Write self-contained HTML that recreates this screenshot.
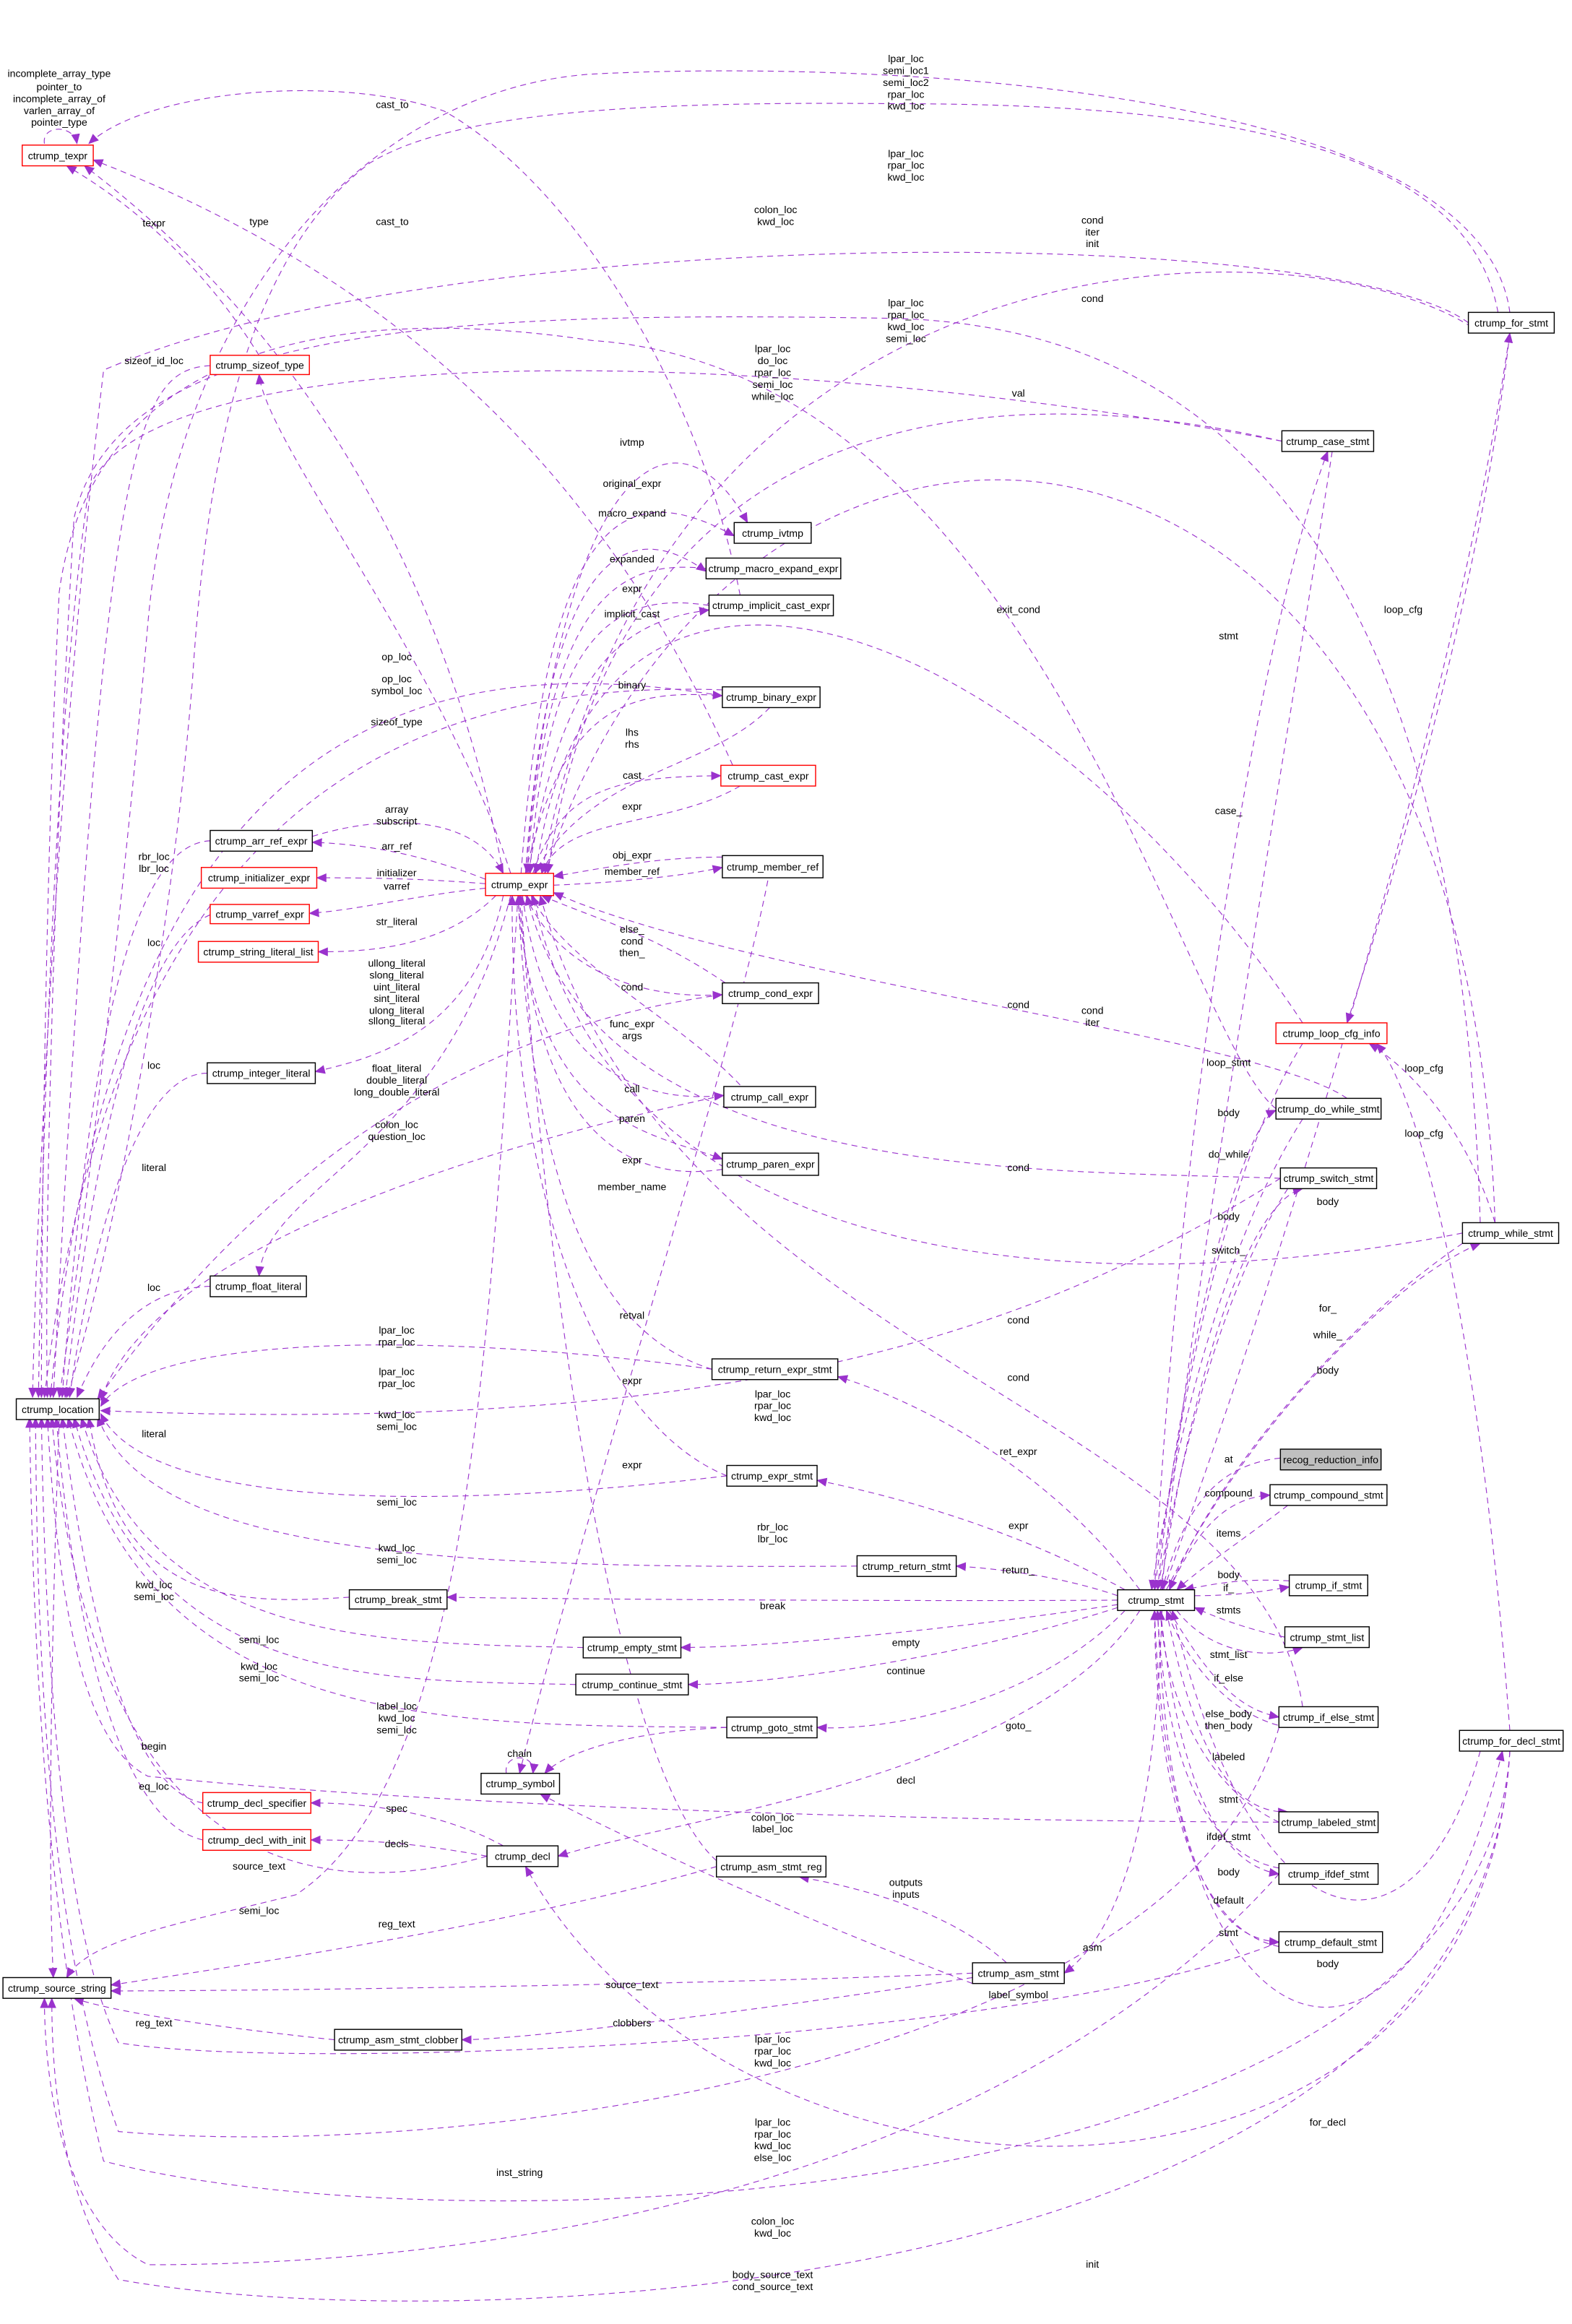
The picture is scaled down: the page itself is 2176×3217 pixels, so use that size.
<!DOCTYPE html>
<html><head><meta charset="utf-8"><style>
html,body{margin:0;padding:0;background:#fff;}
svg{display:block;}
text{font-family:"Liberation Sans",sans-serif;font-size:6.9px;fill:#000;}
.n{fill:#fff;stroke:#000;stroke-width:0.7;}
.r{fill:#fff;stroke:#f00;stroke-width:0.7;}
.g{fill:#bfbfbf;stroke:#000;stroke-width:0.7;}
.e{fill:none;stroke:#9a32cd;stroke-width:0.55;stroke-dasharray:4,3;marker-end:url(#a);}
.l{text-anchor:middle;}
</style></head><body>
<svg width="2176" height="3217" viewBox="0 0 1062 1570" xmlns="http://www.w3.org/2000/svg">
<defs><marker id="a" markerWidth="7" markerHeight="6" refX="6.5" refY="3" orient="auto" markerUnits="userSpaceOnUse"><path d="M0,0 L7,3 L0,6 z" fill="#9a32cd"/></marker></defs>
<rect width="1062" height="1570" fill="#fff"/>
<g>
<path class="e" d="M30,97 C28,84 50,84 52,97"/>
<path class="e" d="M500,402 C470,250 380,120 300,75 C230,50 100,60 60,97"/>
<path class="e" d="M175,240 C150,200 110,150 45,112"/>
<path class="e" d="M340,590 C300,380 200,220 57,112"/>
<path class="e" d="M495,517 C420,350 300,200 63,108"/>
<path class="e" d="M1012,211 C990,90 800,70 600,70 C400,68 300,80 250,110 C170,170 140,300 130,460 C110,700 60,900 45,944"/>
<path class="e" d="M1020,211 C1000,60 600,40 400,50 C250,60 120,200 100,420 C80,650 50,880 40,944"/>
<path class="e" d="M142,247 C90,250 70,300 36,944"/>
<path class="e" d="M142,568 C90,570 60,700 42,944"/>
<path class="e" d="M142,618 C90,640 60,800 44,944"/>
<path class="e" d="M140,725 C90,725 60,850 47,944"/>
<path class="e" d="M142,869 C100,870 70,900 52,944"/>
<path class="e" d="M488,470 C300,440 80,470 34,944"/>
<path class="e" d="M488,466 C300,460 80,520 30,944"/>
<path class="e" d="M866,298 C500,230 100,230 60,330 C35,500 28,800 26,944"/>
<path class="e" d="M992,218 C900,150 300,150 70,250 C40,500 25,800 22,944"/>
<path class="e" d="M862,749 C800,700 700,250 400,230 C200,200 60,250 40,400 C30,600 28,850 28,944"/>
<path class="e" d="M1000,826 C990,500 900,220 600,215 C300,210 80,220 50,350 C35,600 30,850 32,944"/>
<path class="e" d="M489,740 C300,780 100,850 68,946"/>
<path class="e" d="M488,672 C350,690 200,760 66,945"/>
<path class="e" d="M481,925 C300,900 100,900 68,950"/>
<path class="e" d="M865,796 C700,900 500,970 68,953"/>
<path class="e" d="M491,997 C300,1020 100,1020 68,955"/>
<path class="e" d="M579,1058 C300,1060 100,1050 66,957"/>
<path class="e" d="M236,1079 C150,1085 80,1080 60,958"/>
<path class="e" d="M394,1113 C250,1110 100,1110 55,958"/>
<path class="e" d="M389,1138 C250,1135 100,1140 50,958"/>
<path class="e" d="M491,1167 C300,1165 100,1170 46,958"/>
<path class="e" d="M137,1218 C90,1210 60,1100 42,958"/>
<path class="e" d="M137,1243 C80,1230 50,1100 38,958"/>
<path class="e" d="M329,1254 C200,1290 60,1250 35,958"/>
<path class="e" d="M864,1231 C600,1230 300,1220 100,1200 C60,1180 40,1100 32,958"/>
<path class="e" d="M864,1312 C700,1380 200,1400 80,1380 C40,1300 30,1100 28,958"/>
<path class="e" d="M864,1167 C800,1400 300,1460 80,1440 C30,1300 25,1100 24,958"/>
<path class="e" d="M1020,1183 C1000,1500 300,1520 70,1460 C30,1300 22,1100 20,958"/>
<path class="e" d="M484,1261 C350,1300 150,1330 75,1341"/>
<path class="e" d="M657,1333 C500,1340 200,1345 75,1345"/>
<path class="e" d="M226,1378 C150,1370 80,1360 50,1350"/>
<path class="e" d="M350,605 C330,900 320,1200 200,1280 C120,1300 60,1310 45,1336"/>
<path class="e" d="M1020,1183 C1000,1560 300,1580 80,1540 C40,1480 35,1400 35,1350"/>
<path class="e" d="M864,1266 C700,1450 400,1530 100,1530 C40,1500 30,1400 30,1350"/>
<path class="e" d="M40,958 C35,1100 32,1250 36,1336"/>
<path class="e" d="M355,590 C380,300 460,270 505,353"/>
<path class="e" d="M352,590 C370,350 420,320 496,362"/>
<path class="e" d="M355,590 C370,380 420,345 477,386"/>
<path class="e" d="M477,384 C420,378 370,400 356,590"/>
<path class="e" d="M479,409 C420,400 370,420 358,590"/>
<path class="e" d="M357,590 C380,450 420,420 479,412"/>
<path class="e" d="M355,590 C380,480 420,465 488,470"/>
<path class="e" d="M520,478 C480,520 400,520 361,590"/>
<path class="e" d="M360,590 C380,530 420,525 487,524"/>
<path class="e" d="M500,531 C450,560 380,550 366,590"/>
<path class="e" d="M488,579 C440,579 400,588 374,592"/>
<path class="e" d="M374,598 C420,596 460,592 488,586"/>
<path class="e" d="M490,664 C440,630 400,620 366,605"/>
<path class="e" d="M355,605 C380,660 440,675 488,672"/>
<path class="e" d="M500,733 C460,690 380,650 359,605"/>
<path class="e" d="M353,605 C370,730 440,745 489,740"/>
<path class="e" d="M350,605 C360,760 440,765 488,783"/>
<path class="e" d="M488,790 C420,800 360,760 351,605"/>
<path class="e" d="M481,925 C400,900 360,800 350,605"/>
<path class="e" d="M491,997 C400,960 345,800 346,605"/>
<path class="e" d="M520,588 C500,700 400,1000 351,1198"/>
<path class="e" d="M345,590 C300,450 180,300 175,253"/>
<path class="e" d="M211,565 C260,550 320,550 340,590"/>
<path class="e" d="M328,594 C280,575 240,570 211,569"/>
<path class="e" d="M328,597 C280,593 240,593 214,593"/>
<path class="e" d="M328,600 C280,605 240,615 209,617"/>
<path class="e" d="M335,605 C300,640 250,643 215,643"/>
<path class="e" d="M340,605 C320,700 250,715 213,724"/>
<path class="e" d="M345,605 C300,780 180,800 175,862"/>
<path class="e" d="M910,742 C850,700 500,660 374,603"/>
<path class="e" d="M865,796 C700,790 400,800 356,605"/>
<path class="e" d="M988,833 C800,870 420,890 360,605"/>
<path class="e" d="M880,1153 C850,950 450,920 365,605"/>
<path class="e" d="M880,691 C700,420 400,300 362,590"/>
<path class="e" d="M1000,225 C900,150 450,130 366,590"/>
<path class="e" d="M1010,826 C990,220 500,190 368,590"/>
<path class="e" d="M866,298 C700,260 420,250 370,590"/>
<path class="e" d="M484,1257 C420,1200 370,900 352,605"/>
<path class="e" d="M1020,1183 C1000,1530 500,1520 355,1261"/>
<path class="e" d="M770,1088 C700,1200 450,1230 377,1254"/>
<path class="e" d="M657,1340 C500,1280 400,1230 365,1212"/>
<path class="e" d="M340,1247 C300,1225 250,1218 210,1218"/>
<path class="e" d="M329,1254 C280,1245 250,1243 210,1243"/>
<path class="e" d="M342,1198 C340,1184 362,1184 360,1198"/>
<path class="e" d="M491,1167 C420,1170 380,1185 368,1198"/>
<path class="e" d="M680,1326 C640,1290 580,1275 540,1268"/>
<path class="e" d="M657,1336 C500,1360 350,1378 312,1378"/>
<path class="e" d="M785,1088 C780,1250 750,1310 719,1333"/>
<path class="e" d="M780,1074 C800,700 860,400 897,305"/>
<path class="e" d="M900,305 C870,500 800,900 785,1074"/>
<path class="e" d="M880,705 C820,800 790,1000 780,1074"/>
<path class="e" d="M880,756 C820,850 790,1000 778,1074"/>
<path class="e" d="M782,1074 C800,900 840,760 862,750"/>
<path class="e" d="M784,1074 C810,900 850,810 880,803"/>
<path class="e" d="M870,803 C820,880 795,1000 782,1074"/>
<path class="e" d="M786,1074 C850,900 980,500 1020,225"/>
<path class="e" d="M1020,225 C1000,400 940,600 910,691"/>
<path class="e" d="M788,1074 C850,950 950,860 1000,840"/>
<path class="e" d="M988,840 C900,900 820,1000 790,1074"/>
<path class="e" d="M1010,826 C990,760 950,720 925,705"/>
<path class="e" d="M1020,1169 C1000,900 960,740 930,705"/>
<path class="e" d="M1000,1183 C960,1330 850,1330 792,1088"/>
<path class="e" d="M780,1088 C790,1400 950,1450 1015,1183"/>
<path class="e" d="M865,985 C820,990 800,1020 785,1074"/>
<path class="e" d="M790,1074 C810,1030 830,1012 858,1010"/>
<path class="e" d="M870,1017 C840,1040 810,1060 795,1074"/>
<path class="e" d="M871,1068 C840,1066 820,1070 800,1074"/>
<path class="e" d="M807,1078 C830,1078 850,1076 871,1072"/>
<path class="e" d="M868,1106 C840,1100 820,1092 807,1086"/>
<path class="e" d="M795,1088 C820,1120 860,1120 880,1113"/>
<path class="e" d="M790,1088 C820,1140 840,1155 864,1160"/>
<path class="e" d="M870,1167 C830,1160 800,1120 788,1088"/>
<path class="e" d="M788,1088 C810,1200 840,1225 870,1224"/>
<path class="e" d="M864,1231 C800,1200 785,1120 784,1088"/>
<path class="e" d="M784,1088 C800,1240 840,1262 864,1266"/>
<path class="e" d="M864,1262 C800,1250 785,1150 782,1088"/>
<path class="e" d="M782,1088 C790,1280 830,1310 864,1312"/>
<path class="e" d="M864,1315 C790,1300 780,1150 780,1088"/>
<path class="e" d="M760,1088 C700,1150 600,1170 552,1167"/>
<path class="e" d="M755,1086 C650,1120 520,1138 465,1138"/>
<path class="e" d="M755,1084 C650,1100 520,1113 460,1113"/>
<path class="e" d="M755,1081 C600,1082 350,1080 302,1079"/>
<path class="e" d="M755,1078 C720,1066 680,1060 646,1058"/>
<path class="e" d="M760,1074 C680,1030 600,1010 552,1000"/>
<path class="e" d="M770,1074 C700,980 600,940 566,930"/>
</g>
<g>
<rect class="r" x="15" y="98" width="48" height="14"/><text x="39" y="107.5" class="l">ctrump_texpr</text>
<rect class="r" x="142" y="240" width="67" height="13"/><text x="175.5" y="249" class="l">ctrump_sizeof_type</text>
<rect class="n" x="11" y="945" width="56" height="14"/><text x="39" y="954.5" class="l">ctrump_location</text>
<rect class="n" x="2" y="1336" width="73" height="14"/><text x="38.5" y="1345.5" class="l">ctrump_source_string</text>
<rect class="r" x="328" y="590" width="46" height="15"/><text x="351" y="600" class="l">ctrump_expr</text>
<rect class="n" x="142" y="561" width="69" height="14"/><text x="176.5" y="570.5" class="l">ctrump_arr_ref_expr</text>
<rect class="r" x="136" y="586" width="78" height="14"/><text x="175" y="595.5" class="l">ctrump_initializer_expr</text>
<rect class="r" x="142" y="611" width="67" height="13"/><text x="175.5" y="620" class="l">ctrump_varref_expr</text>
<rect class="r" x="134" y="636" width="81" height="14"/><text x="174.5" y="645.5" class="l">ctrump_string_literal_list</text>
<rect class="n" x="140" y="718" width="73" height="14"/><text x="176.5" y="727.5" class="l">ctrump_integer_literal</text>
<rect class="n" x="142" y="862" width="65" height="14"/><text x="174.5" y="871.5" class="l">ctrump_float_literal</text>
<rect class="n" x="496" y="353" width="52" height="14"/><text x="522" y="362.5" class="l">ctrump_ivtmp</text>
<rect class="n" x="477" y="377" width="91" height="14"/><text x="522.5" y="386.5" class="l">ctrump_macro_expand_expr</text>
<rect class="n" x="479" y="402" width="84" height="14"/><text x="521" y="411.5" class="l">ctrump_implicit_cast_expr</text>
<rect class="n" x="488" y="464" width="66" height="14"/><text x="521" y="473.5" class="l">ctrump_binary_expr</text>
<rect class="r" x="487" y="517" width="64" height="14"/><text x="519" y="526.5" class="l">ctrump_cast_expr</text>
<rect class="n" x="488" y="578" width="68" height="15"/><text x="522" y="588" class="l">ctrump_member_ref</text>
<rect class="n" x="488" y="664" width="65" height="14"/><text x="520.5" y="673.5" class="l">ctrump_cond_expr</text>
<rect class="n" x="489" y="734" width="62" height="14"/><text x="520" y="743.5" class="l">ctrump_call_expr</text>
<rect class="n" x="488" y="779" width="65" height="15"/><text x="520.5" y="789" class="l">ctrump_paren_expr</text>
<rect class="n" x="481" y="918" width="85" height="14"/><text x="523.5" y="927.5" class="l">ctrump_return_expr_stmt</text>
<rect class="n" x="491" y="990" width="61" height="14"/><text x="521.5" y="999.5" class="l">ctrump_expr_stmt</text>
<rect class="n" x="579" y="1051" width="67" height="14"/><text x="612.5" y="1060.5" class="l">ctrump_return_stmt</text>
<rect class="n" x="236" y="1074" width="66" height="13"/><text x="269" y="1083" class="l">ctrump_break_stmt</text>
<rect class="n" x="394" y="1106" width="66" height="14"/><text x="427" y="1115.5" class="l">ctrump_empty_stmt</text>
<rect class="n" x="389" y="1131" width="76" height="14"/><text x="427" y="1140.5" class="l">ctrump_continue_stmt</text>
<rect class="n" x="491" y="1160" width="61" height="14"/><text x="521.5" y="1169.5" class="l">ctrump_goto_stmt</text>
<rect class="n" x="325" y="1198" width="53" height="14"/><text x="351.5" y="1207.5" class="l">ctrump_symbol</text>
<rect class="r" x="137" y="1211" width="73" height="14"/><text x="173.5" y="1220.5" class="l">ctrump_decl_specifier</text>
<rect class="r" x="137" y="1236" width="73" height="14"/><text x="173.5" y="1245.5" class="l">ctrump_decl_with_init</text>
<rect class="n" x="329" y="1247" width="48" height="14"/><text x="353" y="1256.5" class="l">ctrump_decl</text>
<rect class="n" x="484" y="1254" width="74" height="14"/><text x="521" y="1263.5" class="l">ctrump_asm_stmt_reg</text>
<rect class="n" x="657" y="1326" width="62" height="14"/><text x="688" y="1335.5" class="l">ctrump_asm_stmt</text>
<rect class="n" x="226" y="1371" width="86" height="14"/><text x="269" y="1380.5" class="l">ctrump_asm_stmt_clobber</text>
<rect class="n" x="755" y="1074" width="52" height="14"/><text x="781" y="1083.5" class="l">ctrump_stmt</text>
<rect class="g" x="865" y="979" width="68" height="14"/><text x="899" y="988.5" class="l">recog_reduction_info</text>
<rect class="n" x="858" y="1003" width="79" height="14"/><text x="897.5" y="1012.5" class="l">ctrump_compound_stmt</text>
<rect class="n" x="871" y="1064" width="53" height="14"/><text x="897.5" y="1073.5" class="l">ctrump_if_stmt</text>
<rect class="n" x="868" y="1099" width="57" height="14"/><text x="896.5" y="1108.5" class="l">ctrump_stmt_list</text>
<rect class="n" x="864" y="1153" width="67" height="14"/><text x="897.5" y="1162.5" class="l">ctrump_if_else_stmt</text>
<rect class="n" x="864" y="1224" width="67" height="14"/><text x="897.5" y="1233.5" class="l">ctrump_labeled_stmt</text>
<rect class="n" x="864" y="1259" width="67" height="14"/><text x="897.5" y="1268.5" class="l">ctrump_ifdef_stmt</text>
<rect class="n" x="864" y="1305" width="70" height="14"/><text x="899" y="1314.5" class="l">ctrump_default_stmt</text>
<rect class="n" x="986" y="1169" width="70" height="14"/><text x="1021" y="1178.5" class="l">ctrump_for_decl_stmt</text>
<rect class="n" x="988" y="826" width="65" height="14"/><text x="1020.5" y="835.5" class="l">ctrump_while_stmt</text>
<rect class="n" x="865" y="789" width="65" height="14"/><text x="897.5" y="798.5" class="l">ctrump_switch_stmt</text>
<rect class="n" x="862" y="742" width="71" height="14"/><text x="897.5" y="751.5" class="l">ctrump_do_while_stmt</text>
<rect class="r" x="862" y="691" width="75" height="14"/><text x="899.5" y="700.5" class="l">ctrump_loop_cfg_info</text>
<rect class="n" x="866" y="291" width="62" height="14"/><text x="897" y="300.5" class="l">ctrump_case_stmt</text>
<rect class="n" x="992" y="211" width="58" height="14"/><text x="1021" y="220.5" class="l">ctrump_for_stmt</text>
</g>
<g class="l">
<text x="40" y="52" class="l">incomplete_array_type</text><text x="40" y="61" class="l">pointer_to</text><text x="40" y="69" class="l">incomplete_array_of</text><text x="40" y="77" class="l">varlen_array_of</text><text x="40" y="85" class="l">pointer_type</text>
<text x="265" y="73" class="l">cast_to</text>
<text x="612" y="42" class="l">lpar_loc</text><text x="612" y="50" class="l">semi_loc1</text><text x="612" y="58" class="l">semi_loc2</text><text x="612" y="66" class="l">rpar_loc</text><text x="612" y="74" class="l">kwd_loc</text>
<text x="612" y="106" class="l">lpar_loc</text><text x="612" y="114" class="l">rpar_loc</text><text x="612" y="122" class="l">kwd_loc</text>
<text x="104" y="153" class="l">texpr</text><text x="175" y="152" class="l">type</text><text x="265" y="152" class="l">cast_to</text>
<text x="524" y="144" class="l">colon_loc</text><text x="524" y="152" class="l">kwd_loc</text>
<text x="738" y="151" class="l">cond</text><text x="738" y="159" class="l">iter</text><text x="738" y="167" class="l">init</text>
<text x="738" y="204" class="l">cond</text>
<text x="612" y="207" class="l">lpar_loc</text><text x="612" y="215" class="l">rpar_loc</text><text x="612" y="223" class="l">kwd_loc</text><text x="612" y="231" class="l">semi_loc</text>
<text x="104" y="246" class="l">sizeof_id_loc</text>
<text x="522" y="238" class="l">lpar_loc</text><text x="522" y="246" class="l">do_loc</text><text x="522" y="254" class="l">rpar_loc</text><text x="522" y="262" class="l">semi_loc</text><text x="522" y="270" class="l">while_loc</text>
<text x="688" y="268" class="l">val</text>
<text x="427" y="301" class="l">ivtmp</text><text x="427" y="329" class="l">original_expr</text><text x="427" y="349" class="l">macro_expand</text><text x="427" y="380" class="l">expanded</text><text x="427" y="400" class="l">expr</text><text x="427" y="417" class="l">implicit_cast</text>
<text x="688" y="414" class="l">exit_cond</text><text x="948" y="414" class="l">loop_cfg</text><text x="830" y="432" class="l">stmt</text>
<text x="268" y="446" class="l">op_loc</text><text x="268" y="461" class="l">op_loc</text><text x="268" y="469" class="l">symbol_loc</text><text x="427" y="465" class="l">binary</text><text x="268" y="490" class="l">sizeof_type</text>
<text x="427" y="497" class="l">lhs</text><text x="427" y="505" class="l">rhs</text><text x="427" y="526" class="l">cast</text><text x="427" y="547" class="l">expr</text>
<text x="268" y="549" class="l">array</text><text x="268" y="557" class="l">subscript</text><text x="268" y="574" class="l">arr_ref</text><text x="830" y="550" class="l">case_</text>
<text x="427" y="580" class="l">obj_expr</text><text x="427" y="591" class="l">member_ref</text><text x="268" y="592" class="l">initializer</text><text x="268" y="601" class="l">varref</text><text x="268" y="625" class="l">str_literal</text>
<text x="104" y="581" class="l">rbr_loc</text><text x="104" y="589" class="l">lbr_loc</text><text x="104" y="639" class="l">loc</text>
<text x="427" y="630" class="l">else_</text><text x="427" y="638" class="l">cond</text><text x="427" y="646" class="l">then_</text><text x="427" y="669" class="l">cond</text>
<text x="268" y="653" class="l">ullong_literal</text><text x="268" y="661" class="l">slong_literal</text><text x="268" y="669" class="l">uint_literal</text><text x="268" y="677" class="l">sint_literal</text><text x="268" y="685" class="l">ulong_literal</text><text x="268" y="692" class="l">sllong_literal</text>
<text x="427" y="694" class="l">func_expr</text><text x="427" y="702" class="l">args</text>
<text x="738" y="685" class="l">cond</text><text x="738" y="693" class="l">iter</text><text x="688" y="681" class="l">cond</text>
<text x="268" y="724" class="l">float_literal</text><text x="268" y="732" class="l">double_literal</text><text x="268" y="740" class="l">long_double_literal</text>
<text x="104" y="722" class="l">loc</text><text x="427" y="738" class="l">call</text><text x="830" y="720" class="l">loop_stmt</text><text x="830" y="754" class="l">body</text><text x="962" y="724" class="l">loop_cfg</text><text x="962" y="768" class="l">loop_cfg</text>
<text x="268" y="762" class="l">colon_loc</text><text x="268" y="770" class="l">question_loc</text><text x="427" y="758" class="l">paren</text><text x="830" y="782" class="l">do_while</text><text x="427" y="786" class="l">expr</text><text x="688" y="791" class="l">cond</text><text x="104" y="791" class="l">literal</text>
<text x="427" y="804" class="l">member_name</text><text x="830" y="824" class="l">body</text><text x="897" y="814" class="l">body</text>
<text x="104" y="872" class="l">loc</text><text x="830" y="847" class="l">switch_</text><text x="897" y="886" class="l">for_</text><text x="427" y="891" class="l">retval</text><text x="688" y="894" class="l">cond</text>
<text x="268" y="901" class="l">lpar_loc</text><text x="268" y="909" class="l">rpar_loc</text><text x="897" y="904" class="l">while_</text><text x="897" y="928" class="l">body</text>
<text x="268" y="929" class="l">lpar_loc</text><text x="268" y="937" class="l">rpar_loc</text><text x="427" y="935" class="l">expr</text><text x="688" y="933" class="l">cond</text>
<text x="522" y="944" class="l">lpar_loc</text><text x="522" y="952" class="l">rpar_loc</text><text x="522" y="960" class="l">kwd_loc</text>
<text x="104" y="971" class="l">literal</text><text x="268" y="958" class="l">kwd_loc</text><text x="268" y="966" class="l">semi_loc</text><text x="427" y="992" class="l">expr</text><text x="688" y="983" class="l">ret_expr</text><text x="830" y="988" class="l">at</text>
<text x="268" y="1017" class="l">semi_loc</text><text x="830" y="1011" class="l">compound</text><text x="688" y="1033" class="l">expr</text><text x="522" y="1034" class="l">rbr_loc</text><text x="522" y="1042" class="l">lbr_loc</text><text x="830" y="1038" class="l">items</text>
<text x="268" y="1048" class="l">kwd_loc</text><text x="268" y="1056" class="l">semi_loc</text><text x="688" y="1063" class="l">return_</text><text x="830" y="1066" class="l">body</text><text x="830" y="1075" class="l">if_</text>
<text x="104" y="1073" class="l">kwd_loc</text><text x="104" y="1081" class="l">semi_loc</text><text x="522" y="1087" class="l">break</text><text x="830" y="1090" class="l">stmts</text>
<text x="175" y="1110" class="l">semi_loc</text><text x="612" y="1112" class="l">empty</text><text x="830" y="1120" class="l">stmt_list</text><text x="612" y="1131" class="l">continue</text>
<text x="175" y="1128" class="l">kwd_loc</text><text x="175" y="1136" class="l">semi_loc</text><text x="830" y="1136" class="l">if_else</text>
<text x="268" y="1155" class="l">label_loc</text><text x="268" y="1163" class="l">kwd_loc</text><text x="268" y="1171" class="l">semi_loc</text>
<text x="830" y="1160" class="l">else_body</text><text x="830" y="1168" class="l">then_body</text><text x="688" y="1168" class="l">goto_</text>
<text x="351" y="1187" class="l">chain</text><text x="830" y="1189" class="l">labeled</text><text x="104" y="1182" class="l">begin</text><text x="612" y="1205" class="l">decl</text>
<text x="268" y="1224" class="l">spec</text><text x="830" y="1218" class="l">stmt</text><text x="104" y="1209" class="l">eq_loc</text>
<text x="522" y="1230" class="l">colon_loc</text><text x="522" y="1238" class="l">label_loc</text><text x="830" y="1243" class="l">ifdef_stmt</text><text x="268" y="1248" class="l">decls</text>
<text x="175" y="1263" class="l">source_text</text><text x="612" y="1274" class="l">outputs</text><text x="612" y="1282" class="l">inputs</text><text x="830" y="1267" class="l">body</text><text x="830" y="1286" class="l">default</text>
<text x="175" y="1293" class="l">semi_loc</text><text x="268" y="1302" class="l">reg_text</text><text x="830" y="1308" class="l">stmt</text><text x="897" y="1329" class="l">body</text><text x="738" y="1318" class="l">asm</text>
<text x="427" y="1343" class="l">source_text</text><text x="688" y="1350" class="l">label_symbol</text><text x="427" y="1369" class="l">clobbers</text><text x="104" y="1369" class="l">reg_text</text>
<text x="522" y="1380" class="l">lpar_loc</text><text x="522" y="1388" class="l">rpar_loc</text><text x="522" y="1396" class="l">kwd_loc</text><text x="897" y="1436" class="l">for_decl</text>
<text x="522" y="1436" class="l">lpar_loc</text><text x="522" y="1444" class="l">rpar_loc</text><text x="522" y="1452" class="l">kwd_loc</text><text x="522" y="1460" class="l">else_loc</text>
<text x="351" y="1470" class="l">inst_string</text><text x="522" y="1503" class="l">colon_loc</text><text x="522" y="1511" class="l">kwd_loc</text><text x="738" y="1532" class="l">init</text>
<text x="522" y="1539" class="l">body_source_text</text><text x="522" y="1547" class="l">cond_source_text</text>
</g>
</svg>
</body></html>
